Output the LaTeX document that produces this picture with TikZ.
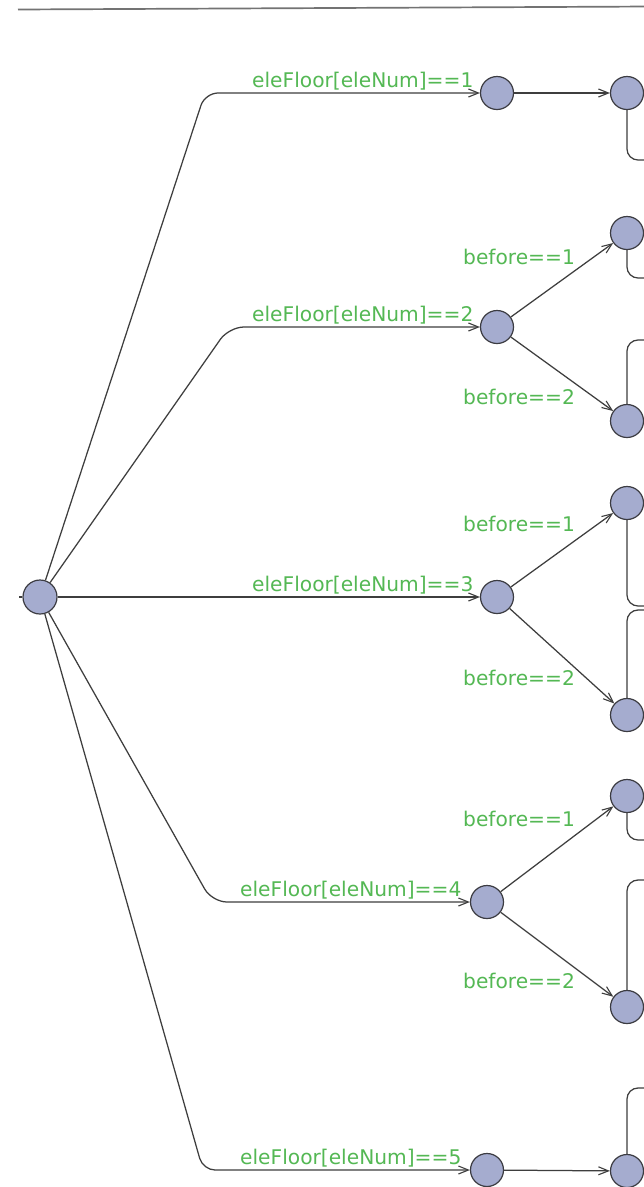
\documentclass[tikz,border=0pt]{standalone}
\usepackage{fontspec}
\newfontfamily\lblfont{DejaVu Sans}
\usetikzlibrary{arrows.meta}
\definecolor{locfill}{RGB}{165,172,207}
\definecolor{locdraw}{RGB}{60,60,66}
\definecolor{edgecol}{RGB}{62,62,62}
\definecolor{guardcol}{RGB}{84,184,84}
\definecolor{rulecol}{RGB}{115,115,115}
\tikzset{
  loc/.style={circle, draw=locdraw, fill=locfill, line width=1.2pt, minimum size=33pt, inner sep=0pt},
  rootloc/.style={loc, minimum size=34pt},
  trans/.style={draw=edgecol, line width=1.25pt, -{Straight Barb[length=10pt,width=8pt,line width=1.1pt]}},
  link/.style={draw=edgecol, line width=1.25pt, rounded corners=11pt},
  guard/.style={anchor=base west, inner sep=0pt, text=guardcol, font=\lblfont\fontsize{20.2}{22}\selectfont},
}
\begin{document}
\begin{tikzpicture}[x=1pt, y=-1pt]
  \clip (0,0) rectangle (644,1187);
  \fill[white] (0,0) rectangle (644,1187);

  % top rule
  \coordinate (ruleL) at (18,9.5);
  \coordinate (ruleR) at (650,6.5);
  \draw[rulecol, line width=1.7pt] (ruleL) -- (ruleR);

  % locations
  \node[rootloc] (root) at (40,597) {};
  \node[loc] (n1) at (497,93) {};
  \node[loc] (n2) at (497,327) {};
  \node[loc] (n3) at (497,597) {};
  \node[loc] (n4) at (487,902) {};
  \node[loc] (n5) at (487,1170) {};

  \node[loc] (r1)  at (627,93) {};
  \node[loc] (r2a) at (627,233) {};
  \node[loc] (r2b) at (627,421) {};
  \node[loc] (r3a) at (627,503) {};
  \node[loc] (r3b) at (627,715) {};
  \node[loc] (r4a) at (627,796) {};
  \node[loc] (r4b) at (627,1007) {};
  \node[loc] (r5)  at (627,1171) {};

  % incoming stub on the root
  \coordinate (in) at (19,597);
  \draw[edgecol, line width=1.25pt] (in) -- (root);

  % bends of the branching edges
  \coordinate (c1) at (205,93);
  \coordinate (c2) at (229,327);
  \coordinate (c4) at (212,902);
  \coordinate (c5) at (203,1170);

  \draw[trans, rounded corners=13pt] (root) -- (c1) -- (n1);
  \draw[trans, rounded corners=15pt] (root) -- (c2) -- (n2);
  \draw[trans] (root) -- (n3);
  \draw[trans, rounded corners=15pt] (root) -- (c4) -- (n4);
  \draw[trans, rounded corners=12pt] (root) -- (c5) -- (n5);

  \node[guard] (g1) at (252,87) {eleFloor[eleNum]==1};
  \node[guard] (g2) at (252,321.5) {eleFloor[eleNum]==2};
  \node[guard] (g3) at (252,591.5) {eleFloor[eleNum]==3};
  \node[guard] (g4) at (240,896.5) {eleFloor[eleNum]==4};
  \node[guard] (g5) at (240,1164.5) {eleFloor[eleNum]==5};

  % second level
  \draw[trans] (n1) -- (r1);
  \draw[trans] (n2) -- (r2a);
  \draw[trans] (n2) -- (r2b);
  \draw[trans] (n3) -- (r3a);
  \draw[trans] (n3) -- (r3b);
  \draw[trans] (n4) -- (r4a);
  \draw[trans] (n4) -- (r4b);
  \draw[trans] (n5) -- (r5);

  \node[guard] (b2a) at (463,264.5) {before==1};
  \node[guard] (b2b) at (463,404.5) {before==2};
  \node[guard] (b3a) at (463,531.5) {before==1};
  \node[guard] (b3b) at (463,685.5) {before==2};
  \node[guard] (b4a) at (463,826.5) {before==1};
  \node[guard] (b4b) at (463,988.5) {before==2};

  % edges leaving to the right
  \coordinate (o1)  at (680,160);
  \coordinate (o2a) at (680,278);
  \coordinate (o2b) at (680,340);
  \coordinate (o3a) at (680,606);
  \coordinate (o3b) at (680,610);
  \coordinate (o4a) at (680,840);
  \coordinate (o4b) at (680,880);
  \coordinate (o5)  at (680,1088);

  \draw[link] (r1)  -- (r1 |- o1)   -- (o1);
  \draw[link] (r2a) -- (r2a |- o2a) -- (o2a);
  \draw[link] (r2b) -- (r2b |- o2b) -- (o2b);
  \draw[link] (r3a) -- (r3a |- o3a) -- (o3a);
  \draw[link] (r3b) -- (r3b |- o3b) -- (o3b);
  \draw[link] (r4a) -- (r4a |- o4a) -- (o4a);
  \draw[link] (r4b) -- (r4b |- o4b) -- (o4b);
  \draw[link] (r5)  -- (r5 |- o5)   -- (o5);
\end{tikzpicture}
\end{document}
